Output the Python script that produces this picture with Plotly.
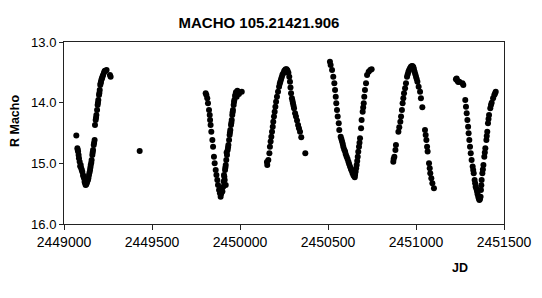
import plotly.graph_objects as go

# Julian dates (JD) and R Macho magnitudes
jd_1993 = [2449070, 2449076, 2449080, 2449083, 2449085, 2449089, 2449095, 2449098, 2449104, 2449108,
           2449114, 2449117, 2449123, 2449129, 2449136, 2449142, 2449148, 2449152, 2449157, 2449161,
           2449165, 2449169, 2449174, 2449176, 2449180, 2449184, 2449188, 2449191, 2449195, 2449199,
           2449203, 2449206, 2449210, 2449216, 2449222, 2449227, 2449235, 2449242, 2449261, 2449265,
           2449430,
           2449078, 2449092, 2449101, 2449111, 2449120, 2449126, 2449132, 2449139, 2449145, 2449150,
           2449155, 2449163, 2449171, 2449182, 2449193, 2449201, 2449208, 2449213, 2449219, 2449231]
mag_1993 = [14.54, 14.752, 14.807, 14.862, 14.917, 14.972, 15.027, 15.082, 15.137, 15.192,
            15.247, 15.302, 15.356, 15.329, 15.274, 15.192, 15.109, 15.027, 14.945, 14.862,
            14.780, 14.697, 14.615, 14.368, 14.285, 14.203, 14.121, 14.038, 13.956, 13.873,
            13.791, 13.709, 13.654, 13.599, 13.544, 13.505, 13.472, 13.461, 13.544, 13.571,
            14.796,
            14.78, 15.05, 15.11, 15.22, 15.33, 15.35, 15.30, 15.24, 15.15, 15.07,
            14.99, 14.82, 14.66, 14.25, 14.00, 13.84, 13.68, 13.62, 13.57, 13.48]

jd_1995 = [2449805, 2449809, 2449814, 2449818, 2449824, 2449828, 2449830, 2449833, 2449837, 2449843,
           2449847, 2449852, 2449856, 2449862, 2449866, 2449871, 2449875, 2449881, 2449886, 2449890,
           2449900, 2449905, 2449919, 2449913, 2449909, 2449915, 2449919, 2449922, 2449926, 2449930,
           2449934, 2449938, 2449941, 2449945, 2449949, 2449953, 2449956, 2449960, 2449964, 2449968,
           2449972, 2449977, 2449985, 2449994, 2449981, 2450010,
           2449893, 2449896, 2449907, 2449911, 2449917, 2449924, 2449932, 2449943, 2449951, 2449958,
           2449966, 2449975]
mag_1995 = [13.846, 13.873, 13.928, 14.011, 14.120, 14.203, 14.285, 14.368, 14.478, 14.615,
            14.725, 14.890, 14.999, 15.109, 15.192, 15.274, 15.356, 15.439, 15.494, 15.549,
            15.466, 15.384, 15.356, 15.274, 15.192, 15.109, 15.027, 14.945, 14.862, 14.780,
            14.697, 14.615, 14.533, 14.450, 14.368, 14.285, 14.203, 14.121, 14.038, 13.956,
            13.890, 13.829, 13.802, 13.857, 13.901, 13.818,
            15.50, 15.42, 15.30, 15.22, 15.07, 14.82, 14.74, 14.49, 14.33, 14.16,
            13.99, 13.86]

jd_1996 = [2450155, 2450161, 2450167, 2450170, 2450174, 2450178, 2450182, 2450186, 2450189, 2450193,
           2450197, 2450201, 2450205, 2450210, 2450216, 2450222, 2450229, 2450237, 2450246, 2450256,
           2450265, 2450275, 2450280, 2450284, 2450290, 2450295, 2450301, 2450307, 2450313, 2450318,
           2450324, 2450330, 2450335, 2450341, 2450348, 2450371,
           2450153, 2450226, 2450233, 2450241, 2450251, 2450260, 2450270, 2450287, 2450298, 2450304]
mag_1996 = [15.027, 14.945, 14.835, 14.725, 14.642, 14.560, 14.478, 14.395, 14.313, 14.230,
            14.148, 14.066, 13.983, 13.901, 13.818, 13.736, 13.654, 13.582, 13.516, 13.461,
            13.450, 13.505, 13.571, 13.654, 13.846, 13.928, 14.011, 14.093, 14.175, 14.230,
            14.296, 14.368, 14.423, 14.478, 14.571, 14.835,
            14.98, 13.69, 13.62, 13.54, 13.48, 13.45, 13.47, 13.75, 13.97, 14.05]

jd_1997 = [2450511, 2450515, 2450523, 2450530, 2450536, 2450540, 2450544, 2450547, 2450551, 2450555,
           2450561, 2450564, 2450572, 2450580, 2450587, 2450597, 2450606, 2450616, 2450625, 2450634,
           2450644, 2450652, 2450657, 2450663, 2450669, 2450676, 2450682, 2450688, 2450691, 2450697,
           2450703, 2450706, 2450710, 2450716, 2450722, 2450731, 2450748,
           2450576, 2450584, 2450592, 2450601, 2450611, 2450620, 2450630, 2450639, 2450648, 2450654,
           2450660, 2450666, 2450672, 2450679, 2450700, 2450740]
mag_1997 = [13.324, 13.379, 13.461, 13.571, 13.681, 13.791, 13.901, 14.011, 14.121, 14.230,
            14.340, 14.450, 14.560, 14.642, 14.725, 14.807, 14.890, 14.972, 15.054, 15.120,
            15.192, 15.230, 15.137, 15.027, 14.890, 14.725, 14.587, 14.423, 14.285, 14.148,
            14.011, 13.901, 13.791, 13.681, 13.544, 13.489, 13.450,
            14.60, 14.68, 14.77, 14.85, 14.93, 15.01, 15.09, 15.16, 15.21, 15.19,
            15.08, 14.96, 14.81, 14.66, 14.08, 13.46]

jd_1998 = [2450871, 2450877, 2450883, 2450886, 2450900, 2450905, 2450911, 2450915, 2450920, 2450924,
           2450928, 2450932, 2450938, 2450943, 2450949, 2450957, 2450966, 2450977, 2450985, 2450992,
           2451000, 2451008, 2451015, 2451023, 2451028, 2451036, 2451051, 2451055, 2451059, 2451063,
           2451066, 2451074, 2451078, 2451081, 2451087, 2451093, 2451102,
           2450873, 2450953, 2450961, 2450971, 2450981, 2450988, 2450996, 2451004]
mag_1998 = [14.972, 14.890, 14.780, 14.697, 14.478, 14.406, 14.313, 14.230, 14.120, 14.011,
            13.928, 13.846, 13.763, 13.681, 13.571, 13.489, 13.434, 13.395, 13.417, 13.489,
            13.571, 13.654, 13.736, 13.818, 13.928, 14.077, 14.450, 14.533, 14.615, 14.725,
            14.807, 14.999, 15.082, 15.164, 15.247, 15.329, 15.412,
            14.93, 13.53, 13.46, 13.41, 13.40, 13.45, 13.53, 13.61]

jd_1999 = [2451227, 2451235, 2451246, 2451269, 2451280, 2451284, 2451288, 2451292, 2451296, 2451299,
           2451303, 2451307, 2451311, 2451316, 2451322, 2451328, 2451333, 2451339, 2451347, 2451354,
           2451360, 2451367, 2451369, 2451373, 2451377, 2451383, 2451388, 2451394, 2451400, 2451405,
           2451409, 2451415, 2451422, 2451430, 2451438, 2451445, 2451453,
           2451231, 2451240, 2451264, 2451325, 2451336, 2451343, 2451350, 2451357, 2451363, 2451371,
           2451380, 2451391, 2451402, 2451412, 2451426, 2451449]
mag_1999 = [13.615, 13.637, 13.654, 13.709, 13.956, 14.066, 14.175, 14.285, 14.395, 14.505,
            14.615, 14.725, 14.835, 14.945, 15.054, 15.164, 15.274, 15.384, 15.466, 15.549,
            15.604, 15.549, 15.439, 15.274, 15.164, 15.027, 14.890, 14.752, 14.615, 14.478,
            14.340, 14.203, 14.093, 14.000, 13.928, 13.873, 13.818,
            13.60, 13.66, 13.68, 15.11, 15.33, 15.42, 15.51, 15.58, 15.59, 15.36,
            15.10, 14.82, 14.55, 14.27, 14.04, 13.85]

jd = jd_1993 + jd_1995 + jd_1996 + jd_1997 + jd_1998 + jd_1999
mag = mag_1993 + mag_1995 + mag_1996 + mag_1997 + mag_1998 + mag_1999

x_ticks = [2449000, 2449500, 2450000, 2450500, 2451000, 2451500]
y_ticks = [13.0, 14.0, 15.0, 16.0]

FONT = "Arial, 'Liberation Sans', sans-serif"
AX = "#222222"

fig = go.Figure()
fig.add_trace(go.Scatter(
    x=jd, y=mag, mode="markers",
    marker=dict(color="black", size=6, line=dict(width=0)),
    showlegend=False, hoverinfo="x+y"))

fig.update_layout(
    width=542, height=298,
    margin=dict(l=64, r=38, t=42, b=74),
    paper_bgcolor="white", plot_bgcolor="white",
    font=dict(family=FONT, color="black", size=13),
    title=dict(text="<b>MACHO 105.21421.906</b>", x=259 / 542, xanchor="center",
               y=1 - 23 / 298, yanchor="middle", font=dict(size=15, family=FONT, color="black")),
    xaxis=dict(range=[2449000, 2451500], tickvals=x_ticks, ticktext=[str(v) for v in x_ticks],
               showgrid=False, zeroline=False, showline=True, linecolor=AX, linewidth=1, mirror=True,
               ticks="outside", ticklen=5, tickcolor=AX, tickfont=dict(size=14, family=FONT)),
    yaxis=dict(range=[16.0, 13.0], tickvals=y_ticks, ticktext=["%.1f" % v for v in y_ticks],
               showgrid=False, zeroline=False, showline=True, linecolor=AX, linewidth=1, mirror=True,
               ticks="outside", ticklen=4, tickcolor=AX, tickfont=dict(size=13, family=FONT)),
    annotations=[
        dict(text="<b>R Macho</b>", xref="paper", yref="paper", x=(15 - 64) / 440, y=(224 - 121) / 182,
             textangle=-90, showarrow=False, xanchor="center", yanchor="middle",
             font=dict(size=12.5, family=FONT, color="black")),
        dict(text="<b>JD</b>", xref="paper", yref="paper", x=(460 - 64) / 440, y=(224 - 268) / 182,
             showarrow=False, xanchor="center", yanchor="middle",
             font=dict(size=12.5, family=FONT, color="black")),
    ],
)

fig.write_html("out.html")
